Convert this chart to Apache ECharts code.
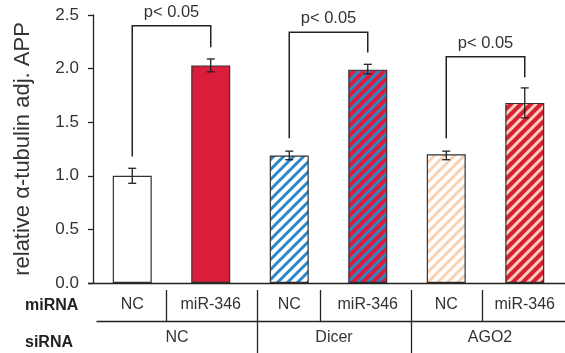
<!DOCTYPE html>
<html>
<head>
<meta charset="utf-8">
<script src="https://cdn.jsdelivr.net/npm/echarts@6/dist/echarts.min.js"></script>
<style>html,body{margin:0;padding:0;background:#fff;}#c{width:565px;height:353px;}</style>
</head>
<body>
<div id="c"></div>
<script>
// ---- data ----
const categories = ['NC', 'miR-346', 'NC', 'miR-346', 'NC', 'miR-346'];
const siRNAGroups = ['NC', 'Dicer', 'AGO2'];
const values = [1.00, 2.03, 1.19, 1.99, 1.20, 1.68];
const errLow = [0.93, 1.97, 1.15, 1.95, 1.15, 1.54];
const errHigh = [1.07, 2.09, 1.23, 2.04, 1.23, 1.82];
const yMin = 0, yMax = 2.5, yInterval = 0.5;
const bracketLeft = [0, 2, 4];
const bracketRight = [1, 3, 5];
const bracketTop = [2.40, 2.34, 2.11];
const bracketLeftEnd = [1.18, 1.35, 1.35];
const bracketRightEnd = [2.20, 2.15, 1.92];
const bracketLabels = ['p< 0.05', 'p< 0.05', 'p< 0.05'];
const rowLabels = ['miRNA', 'siRNA'];

// ---- styles ----
const RED = '#da1d3b', BLUE = '#2b87c9', PEACH = '#fad2b2', WHITE = '#ffffff';
function stripes(bg, fg) {
  const P = 10;
  const c = document.createElement('canvas');
  c.width = P; c.height = P;
  const g = c.getContext('2d');
  g.fillStyle = bg; g.fillRect(0, 0, P, P);
  g.strokeStyle = fg; g.lineWidth = 3;
  g.beginPath();
  g.moveTo(-P, P); g.lineTo(P, -P);
  g.moveTo(0, 2 * P); g.lineTo(2 * P, 0);
  g.moveTo(-P, 2 * P); g.lineTo(2 * P, -P);
  g.stroke();
  return { image: c, repeat: 'repeat' };
}
const fills = [WHITE, RED, stripes(WHITE, BLUE), stripes(RED, BLUE), stripes(WHITE, PEACH), stripes(RED, PEACH)];

const font = 'Liberation Sans, Arial, sans-serif';
const chart = echarts.init(document.getElementById('c'), null, { renderer: 'canvas' });

const barData = values.map((v, i) => ({ value: v, itemStyle: { color: fills[i] } }));
const errData = values.map((v, i) => [i, errLow[i], errHigh[i]]);
const brData = bracketLeft.map((l, i) => [l, bracketRight[i], bracketTop[i], bracketLeftEnd[i], bracketRightEnd[i], i]);

// table graphics (decoration outside the plot)
const lineStyle = { stroke: '#222', lineWidth: 1.3 };
const graphics = [
  { type: 'line', shape: { x1: 88, y1: 283.5, x2: 565, y2: 283.5 }, style: { stroke: '#222', lineWidth: 1.3 }, z: 50 },
  { type: 'line', shape: { x1: 96.5, y1: 321.5, x2: 565, y2: 321.5 }, style: lineStyle },
  { type: 'line', shape: { x1: 166.5, y1: 290, x2: 166.5, y2: 322 }, style: lineStyle },
  { type: 'line', shape: { x1: 320.5, y1: 290, x2: 320.5, y2: 322 }, style: lineStyle },
  { type: 'line', shape: { x1: 482.5, y1: 290, x2: 482.5, y2: 322 }, style: lineStyle },
  { type: 'line', shape: { x1: 257.5, y1: 290, x2: 257.5, y2: 353 }, style: lineStyle },
  { type: 'line', shape: { x1: 411.5, y1: 290, x2: 411.5, y2: 353 }, style: lineStyle },
  { type: 'text', x: 25, y: 306, style: { text: rowLabels[0], font: 'bold 16px ' + font, fill: '#222', textVerticalAlign: 'middle' } },
  { type: 'text', x: 25, y: 343, style: { text: rowLabels[1], font: 'bold 16px ' + font, fill: '#222', textVerticalAlign: 'middle' } }
];
const groupX = [177, 334, 490];
siRNAGroups.forEach((g, i) => {
  graphics.push({ type: 'text', x: groupX[i], y: 337.5, style: { text: g, font: '16px ' + font, fill: '#333', textAlign: 'center', textVerticalAlign: 'middle' } });
});

chart.setOption({
  animation: false,
  backgroundColor: '#fff',
  grid: { left: 93, right: 1, top: 15, bottom: 70, containLabel: false },
  xAxis: {
    type: 'category', data: categories,
    axisLine: { show: false }, axisTick: { show: false },
    axisLabel: { interval: 0, fontSize: 16, fontFamily: font, color: '#333', margin: 14 }
  },
  yAxis: {
    type: 'value', min: yMin, max: yMax, interval: yInterval,
    name: 'relative α-tubulin adj. APP', nameLocation: 'middle', nameGap: 59,
    nameTextStyle: { fontSize: 22, fontFamily: font, color: '#333' },
    axisLine: { show: true, lineStyle: { color: '#222', width: 1.3 } },
    axisTick: { show: true, length: 5, lineStyle: { color: '#222', width: 1.3 } },
    axisLabel: { fontSize: 17, fontFamily: font, color: '#333', margin: 14, formatter: v => v.toFixed(1) },
    splitLine: { show: false }
  },
  series: [
    {
      type: 'bar', data: barData, barWidth: 39,
      itemStyle: { borderColor: '#333', borderWidth: 1.2 }
    },
    {
      type: 'custom', data: errData, z: 10,
      renderItem: function (params, api) {
        const x = api.value(0);
        const lo = api.coord([x, api.value(1)]);
        const hi = api.coord([x, api.value(2)]);
        const w = 4;
        const st = { stroke: '#222', lineWidth: 1.3, fill: null };
        return {
          type: 'group', children: [
            { type: 'line', shape: { x1: lo[0], y1: lo[1], x2: hi[0], y2: hi[1] }, style: st },
            { type: 'line', shape: { x1: lo[0] - w, y1: lo[1], x2: lo[0] + w, y2: lo[1] }, style: st },
            { type: 'line', shape: { x1: hi[0] - w, y1: hi[1], x2: hi[0] + w, y2: hi[1] }, style: st }
          ]
        };
      }
    },
    {
      type: 'custom', data: brData, clip: false, z: 10,
      renderItem: function (params, api) {
        const l = api.value(0), r = api.value(1);
        const top = api.value(2);
        const pLT = api.coord([l, top]), pRT = api.coord([r, top]);
        const pLB = api.coord([l, api.value(3)]), pRB = api.coord([r, api.value(4)]);
        const st = { stroke: '#222', lineWidth: 1.5, fill: null };
        return {
          type: 'group', children: [
            { type: 'polyline', shape: { points: [pLB, pLT, pRT, pRB] }, style: st },
            { type: 'text', x: (pLT[0] + pRT[0]) / 2, y: pLT[1] - 5,
              style: { text: bracketLabels[api.value(5)], font: '16.5px ' + font, fill: '#333', textAlign: 'center', textVerticalAlign: 'bottom' } }
          ]
        };
      }
    }
  ],
  graphic: graphics
});
</script>
</body>
</html>
